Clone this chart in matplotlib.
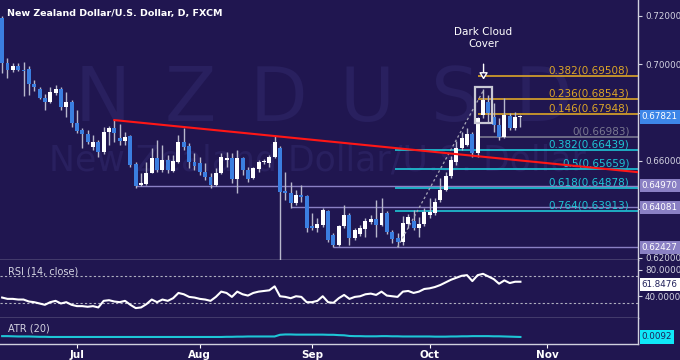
import matplotlib
matplotlib.use('Agg')
import matplotlib.pyplot as plt
from matplotlib.patches import Rectangle, FancyArrowPatch
from matplotlib.transforms import blended_transform_factory

################################################################
############## Daily NZD/USD candles (Jun 11 - Oct 26) #########
opens = [.7192, .7005, .6976, .6993, .6976, .6981, .6918, .6898, .6861, .6844,
         .6881, .6898, .6823, .6844, .6757, .6728, .6711, .6658, .6678, .6637,
         .6720, .6736, .6695, .6682, .6703, .6587, .6500, .6504, .6550, .6612,
         .6563, .6604, .6558, .6596, .6678, .6662, .6596, .6591, .6554, .6533,
         .6500, .6550, .6604, .6612, .6525, .6612, .6563, .6529, .6567, .6596,
         .6591, .6617, .6654, .6475, .6467, .6426, .6459, .6455, .6331, .6323,
         .6335, .6393, .6294, .6252, .6331, .6376, .6281, .6298, .6318, .6347,
         .6360, .6335, .6384, .6306, .6281, .6265, .6339, .6351, .6323, .6339,
         .6376, .6384, .6438, .6479, .6538, .6596, .6654, .6666, .6711, .6633,
         .6790, .6844, .6782, .6749, .6699, .6786, .6736, .6782]
highs = [.7200, .7026, .7005, .7005, .7010, .6993, .6935, .6906, .6877, .6906,
         .6914, .6906, .6885, .6852, .6811, .6736, .6728, .6707, .6686, .6740,
         .6745, .6769, .6753, .6720, .6707, .6596, .6550, .6596, .6654, .6686,
         .6666, .6625, .6625, .6707, .6736, .6674, .6633, .6617, .6591, .6550,
         .6571, .6633, .6637, .6633, .6645, .6617, .6575, .6575, .6604, .6608,
         .6625, .6703, .6662, .6554, .6513, .6479, .6500, .6459, .6384, .6364,
         .6405, .6397, .6302, .6335, .6418, .6384, .6323, .6335, .6364, .6376,
         .6438, .6447, .6393, .6314, .6302, .6372, .6380, .6397, .6368, .6405,
         .6447, .6447, .6529, .6554, .6621, .6682, .6720, .6736, .6720, .6782,
         .6898, .6873, .6840, .6778, .6861, .6798, .6803, .6790]
lows = [.6964, .6943, .6968, .6972, .6869, .6873, .6890, .6857, .6811, .6840,
        .6873, .6811, .6782, .6740, .6716, .6654, .6670, .6645, .6617, .6629,
        .6666, .6678, .6666, .6666, .6575, .6488, .6496, .6500, .6550, .6554,
        .6554, .6550, .6554, .6591, .6645, .6571, .6563, .6542, .6521, .6488,
        .6496, .6546, .6575, .6509, .6467, .6542, .6513, .6525, .6554, .6587,
        .6575, .6612, .6140, .6438, .6405, .6418, .6430, .6306, .6314, .6306,
        .6327, .6265, .6243, .6248, .6323, .6252, .6273, .6289, .6285, .6339,
        .6285, .6331, .6298, .6260, .6244, .6252, .6323, .6314, .6285, .6331,
        .6364, .6376, .6430, .6475, .6529, .6583, .6645, .6662, .6617, .6617,
        .6778, .6761, .6720, .6686, .6695, .6728, .6728, .6740]
closes = [.7005, .6976, .6993, .6976, .6974, .6918, .6906, .6861, .6844, .6885,
          .6898, .6823, .6844, .6757, .6724, .6711, .6678, .6678, .6637, .6720,
          .6736, .6716, .6682, .6699, .6583, .6496, .6509, .6550, .6612, .6563,
          .6604, .6563, .6600, .6678, .6658, .6596, .6579, .6554, .6533, .6500,
          .6550, .6617, .6612, .6525, .6612, .6563, .6525, .6571, .6596, .6600,
          .6617, .6678, .6471, .6467, .6426, .6459, .6451, .6323, .6323, .6339,
          .6397, .6273, .6252, .6331, .6376, .6281, .6314, .6323, .6351, .6360,
          .6335, .6384, .6306, .6277, .6265, .6343, .6368, .6323, .6339, .6389,
          .6389, .6430, .6479, .6538, .6604, .6654, .6695, .6711, .6633, .6778,
          .6852, .6798, .6749, .6699, .6790, .6736, .6782, .67821]

rsi = [38, 36, 36, 35, 35, 32, 31, 29, 27, 31, 33, 29, 31, 27, 25, 25, 24, 25, 23, 33,
       34, 32, 31, 33, 27, 22, 23, 28, 35, 31, 35, 33, 37, 45, 43, 39, 38, 36, 35, 33,
       39, 47, 45, 39, 47, 43, 41, 45, 47, 48, 49, 55, 40, 39, 37, 40, 39, 31, 31, 33,
       40, 31, 30, 37, 42, 36, 39, 40, 43, 44, 42, 47, 41, 40, 39, 47, 48, 45, 47, 51,
       52, 54, 57, 61, 65, 68, 71, 72, 63, 72, 74, 70, 66, 59, 64, 60, 62, 62]

atr = [.0097, .0097, .0096, .0095, .0095, .0095, .0094, .0093, .0093, .0092,
       .0092, .0092, .0092, .0092, .0092, .0092, .0092, .0092, .0092, .0092,
       .0092, .0092, .0092, .0092, .0092, .0092, .0092, .0092, .0092, .0092,
       .0092, .0092, .0092, .0092, .0092, .0092, .0092, .0092, .0092, .0092,
       .0092, .0092, .0093, .0093, .0094, .0094, .0095, .0095, .0095, .0095,
       .0095, .0095, .0105, .0107, .0107, .0106, .0106, .0106, .0106, .0106,
       .0106, .0105, .0105, .0103, .0102, .0098, .0097, .0097, .0096, .0096,
       .0096, .0097, .0097, .0096, .0096, .0095, .0095, .0095, .0095, .0095,
       .0095, .0094, .0094, .0094, .0095, .0095, .0096, .0096, .0097, .0097,
       .0097, .0097, .0096, .0096, .0095, .0094, .0093, .0092]

month_pos = [14, 37, 58, 80, 102]
month_lbl = ['Jul', 'Aug', 'Sep', 'Oct', 'Nov']

# fib extension (gold), swing point (grey), retracements (cyan)
fib_gold = [0.69508, 0.68543, 0.67948]
fib_gold_lbl = ['0.382(0.69508)', '0.236(0.68543)', '0.146(0.67948)']
fib_zero = 0.66983
fib_cyan = [0.66439, 0.65659, 0.64878, 0.63913]
fib_cyan_lbl = ['0.382(0.66439)', '0.5(0.65659)', '0.618(0.64878)', '0.764(0.63913)']

# horizontal levels with purple tags: (price, start bar)
levels = [0.64970, 0.64081, 0.62427]
level_start = [25, 54, 62]

trend_pts = [(21, 0.6769), (51, 0.6703)]
swing = [(74, 0.62427), (90, 0.68891)]
last_price = 0.67821

price_ticks = [0.62, 0.64, 0.66, 0.68, 0.70, 0.72]

BG = '#201650'
BLUE = '#3b7ee0'
WICK = '#b8b8cc'
GOLD = '#dca528'
CYAN = '#1ec6d6'
GREY = '#7a7890'
PURP = '#8a80c4'
TXT = '#d4d4e2'
XMAX = 119.0
FS = 6.3


def style(a):
    a.set_facecolor(BG)
    for s in ['left', 'top']:
        a.spines[s].set_visible(False)
    for s in ['right', 'bottom']:
        a.spines[s].set_color('#d0d0de')
        a.spines[s].set_linewidth(1.0)
    a.yaxis.tick_right()
    a.tick_params(axis='y', colors=TXT, labelsize=FS, length=3, pad=2, width=0.8)
    a.tick_params(axis='x', bottom=False, labelbottom=False)


def tag(a, y, text, fc, tc='white'):
    tr = blended_transform_factory(a.transAxes, a.transData)
    a.text(1.006, y, text, transform=tr, fontsize=FS, color=tc, ha='left',
           va='center', clip_on=False, zorder=10,
           bbox=dict(boxstyle='square,pad=0.25', fc=fc, ec='none'))


def main():
    fig = plt.figure(figsize=(6.8, 3.6), dpi=100)
    fig.patch.set_facecolor(BG)
    ax = fig.add_axes([0, 0.2778, 0.9382, 0.7222])
    ax_rsi = fig.add_axes([0, 0.1167, 0.9382, 0.1611])
    ax_atr = fig.add_axes([0, 0.0444, 0.9382, 0.0722])
    for a in (ax, ax_rsi, ax_atr):
        style(a)
        a.set_xlim(-0.4, XMAX)

    ###########################################################
    ############## watermark ##################################
    for k, ch in enumerate('NZDUSD'):
        ax.text(18.8 + k * 16.5, 0.6852, ch, fontsize=54, color='#29205f',
                ha='center', va='center', zorder=0)
    ax.text(59, 0.6600, 'New Zealand Dollar/U.S. Dollar', fontsize=25,
            color='#29205f', ha='center', va='center', zorder=0)

    ###########################################################
    ############## levels and fibs ############################
    for lv, st in zip(levels, level_start):
        ax.hlines(lv, st, XMAX, color=PURP, lw=1, zorder=1)
    for lv, lb in zip(fib_gold, fib_gold_lbl):
        ax.hlines(lv, 89, XMAX, color=GOLD, lw=1.2, zorder=1)
        ax.text(117.4, lv + 0.0003, lb, color=GOLD, fontsize=7.5,
                ha='right', va='bottom', zorder=2)
    ax.hlines(fib_zero, 89, XMAX, color=GREY, lw=1.2, zorder=1)
    ax.text(117.4, fib_zero + 0.0003, '0(0.66983)', color=GREY, fontsize=7.5,
            ha='right', va='bottom', zorder=2)
    for lv, lb in zip(fib_cyan, fib_cyan_lbl):
        ax.hlines(lv, 73.5, XMAX, color=CYAN, lw=1.2, zorder=1)
        ax.text(117.4, lv + 0.0003, lb, color=CYAN, fontsize=7.5,
                ha='right', va='bottom', zorder=2)
    ax.plot([swing[0][0], swing[1][0]], [swing[0][1], swing[1][1]],
            color='#a8a8b8', lw=0.9, ls=(0, (2, 2)), zorder=4)

    ###########################################################
    ############## candles ####################################
    for i in range(len(opens)):
        o, h, l, c = opens[i], highs[i], lows[i], closes[i]
        ax.vlines(i, l, h, color=WICK, lw=1, zorder=2)
        col = 'white' if c >= o else BLUE
        ax.bar(i, max(abs(c - o), 0.00025), bottom=min(o, c), width=0.74,
               color=col, edgecolor='none', zorder=3)

    (x1, y1), (x2, y2) = trend_pts
    slope = (y2 - y1) / (x2 - x1)
    ax.plot([x1, XMAX], [y1, y1 + slope * (XMAX - x1)], color='#ff1616',
            lw=1.5, zorder=5)

    # dark cloud cover box + arrow
    ax.add_patch(Rectangle((88.55, 0.6757), 3.1, 0.0148, fill=False,
                           ec='#c8c8d4', lw=1.6, zorder=6))
    ax.add_patch(FancyArrowPatch((90.1, 0.7012), (90.1, 0.6925),
                                 arrowstyle='-|>,head_length=4,head_width=2.5',
                                 color='white', fc=BG, lw=1, zorder=7))
    ax.text(90.1, 0.7109, 'Dark Cloud\nCover', color='white', fontsize=7.5,
            ha='center', va='center', linespacing=1.25, zorder=7)

    ax.set_ylim(0.61898, 0.72662)
    ax.set_yticks(price_ticks)
    ax.set_yticklabels(['' if v in (0.64, 0.68) else '%.5f' % v for v in price_ticks])
    tag(ax, last_price, '0.67821', '#3d86e8')
    for lv in levels:
        tag(ax, lv, '%.5f' % lv, PURP)

    fig.text(0.011, 0.962, 'New Zealand Dollar/U.S. Dollar, D, FXCM',
             color='white', fontsize=6.8, fontweight='bold', va='center')

    ###########################################################
    ############## RSI ########################################
    idx = list(range(len(rsi)))
    ax_rsi.plot(idx, rsi, color='white', lw=1.5, zorder=3)
    ax_rsi.axhline(70, color='#b0b0c0', lw=0.8, ls=(0, (2, 2)))
    ax_rsi.axhline(30, color='#b0b0c0', lw=0.8, ls=(0, (2, 2)))
    ax_rsi.set_ylim(7, 95)
    ax_rsi.set_yticks([80, 40])
    ax_rsi.set_yticklabels(['80.0000', '40.0000'])
    ax_rsi.text(0.012, 0.8, 'RSI (14, close)', transform=ax_rsi.transAxes,
                color=TXT, fontsize=7, va='center')
    tag(ax_rsi, rsi[-1] - 4, '61.8476', 'white', tc='#20205a')

    ###########################################################
    ############## ATR ########################################
    ax_atr.plot(idx, atr, color=CYAN, lw=1.5)
    ax_atr.set_ylim(0.0050, 0.0205)
    ax_atr.set_yticks([])
    ax_atr.text(0.012, 0.6, 'ATR (20)', transform=ax_atr.transAxes,
                color=TXT, fontsize=7, va='center')
    tag(ax_atr, atr[-1], '0.0092', '#10e8f8', tc='#20205a')
    ax_atr.set_xticks(month_pos)
    ax_atr.set_xticklabels(month_lbl)
    ax_atr.tick_params(axis='x', bottom=True, labelbottom=True, colors='white',
                       labelsize=7.5, length=3, pad=1.5)
    for t in ax_atr.get_xticklabels():
        t.set_fontweight('bold')

    fig.savefig('out.png', dpi=100, facecolor=BG)


if __name__ == '__main__':
    main()
